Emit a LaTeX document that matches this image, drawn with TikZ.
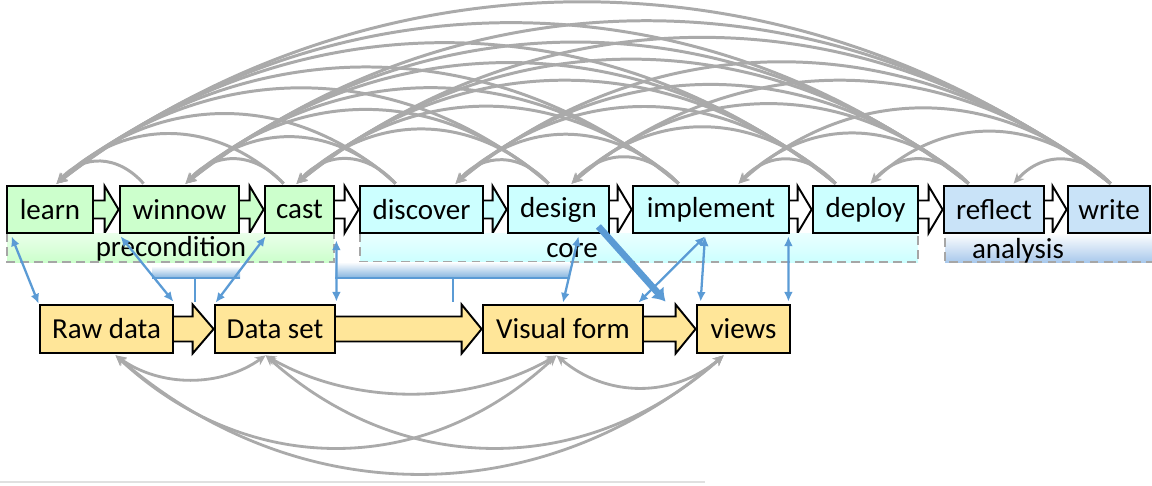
\documentclass[tikz,border=0pt]{standalone}
\usepackage{fontspec}
\setmainfont{Carlito}
\usetikzlibrary{arrows.meta,calc,backgrounds}

\definecolor{stagegreen}{HTML}{CCFFCC}
\definecolor{stagecyan}{HTML}{CCFFFF}
\definecolor{stageblue}{HTML}{C9E3F8}
\definecolor{analysisblue}{HTML}{A9C9EC}
\definecolor{datayellow}{HTML}{FFE699}
\definecolor{linkblue}{HTML}{5B9BD5}
\definecolor{arcgray}{HTML}{AAAAAA}
\definecolor{dashgray}{HTML}{A6A6A6}

% hollow block arrow between two boxes:
% #1 from, #2 to, #3 shaft half height, #4 head half height, #5 head length, #6 fill
\newcommand{\flowarrow}[6]{%
  \filldraw[fill=#6, draw=black, line width=1.1pt, line join=miter]
    ($(#1.east)+(-2,-#3)$) -- ($(#2.west)+(-#5,-#3)$) -- ($(#2.west)+(-#5,-#4)$)
    -- (#2.west) -- ($(#2.west)+(-#5,#4)$) -- ($(#2.west)+(-#5,#3)$)
    -- ($(#1.east)+(-2,#3)$) -- cycle;}

\begin{document}
\begin{tikzpicture}[x=0.02cm,y=-0.02cm,
  stagebox/.style={draw=black, line width=1.6pt, minimum height=0.94cm,
    inner sep=0pt, font=\fontsize{16.5}{20}\selectfont},
  databox/.style={stagebox, minimum height=0.96cm, fill=datayellow},
  bandlabel/.style={inner sep=0pt, font=\fontsize{16.5}{20}\selectfont},
  banddash/.style={draw=dashgray, line width=1.1pt, dash pattern=on 5pt off 3pt},
  grayarc/.style={draw=arcgray, line width=1.7pt, -{Stealth[length=6pt,width=5.5pt]}},
  grayarcboth/.style={draw=arcgray, line width=1.6pt,
    {Stealth[length=6pt,width=5.5pt]}-{Stealth[length=6pt,width=5.5pt]}},
  linkarrow/.style={draw=linkblue, line width=1.3pt,
    {Latex[length=5.5pt,width=5pt]}-{Latex[length=5.5pt,width=5pt]}},
  thicklink/.style={draw=linkblue, line width=3.8pt, -{Latex[length=7pt,width=10pt]}},
  bracketline/.style={draw=linkblue, line width=1.3pt}]

\useasboundingbox (0,0) rectangle (1152,485);

% stage groups below the top row
\shade[top color=stagegreen!40, bottom color=stagegreen] (7,233) rectangle (334,262);
\shade[top color=stagecyan!40, bottom color=stagecyan] (360,233) rectangle (918,262);
\shade[top color=white, bottom color=analysisblue] (945,233) rectangle (1152,262);
\draw[banddash] (7,233) -- (7,262) -- (334,262) -- (334,233);
\draw[banddash] (360,233) -- (360,262) -- (918,262) -- (918,233);
\draw[banddash] (945,238) -- (945,262) -- (1152,262);

\node[bandlabel] (lbl-pre) at (171,249) {precondition};
\node[bandlabel] (lbl-core) at (572,251) {core};
\node[bandlabel] (lbl-ana) at (1018,251) {analysis};

% brackets pointing at the data transformations
\shade[top color=white, bottom color=linkblue!75] (152,266) rectangle (240,278);
\draw[bracketline] (152,278) -- (240,278);
\draw[bracketline] (195,278) -- (195,302);
\shade[top color=white, bottom color=linkblue!75] (335,262) rectangle (570,278);
\draw[bracketline] (335,278) -- (570,278);
\draw[bracketline] (453,278) -- (453,302);

% top row: the nine stages
\node[stagebox, fill=stagegreen, minimum width=1.72cm] (learn) at (50,209.5) {learn};
\node[stagebox, fill=stagegreen, minimum width=2.38cm] (winnow) at (179.5,209.5) {winnow};
\node[stagebox, fill=stagegreen, minimum width=1.38cm] (cast) at (299.5,209.5) {cast};
\node[stagebox, fill=stagecyan, minimum width=2.46cm] (discover) at (421.5,209.5) {discover};
\node[stagebox, fill=stagecyan, minimum width=2.02cm] (design) at (558.5,209.5) {design};
\node[stagebox, fill=stagecyan, minimum width=3.12cm] (implement) at (711,209.5) {implement};
\node[stagebox, fill=stagecyan, minimum width=2.10cm] (deploy) at (865.5,209.5) {deploy};
\node[stagebox, fill=stageblue, minimum width=2.00cm] (reflect) at (994,209.5) {reflect};
\node[stagebox, fill=stageblue, minimum width=1.64cm] (write) at (1109,209.5) {write};

% bottom row: the data pipeline
\node[databox, minimum width=2.66cm] (raw) at (106.5,329) {Raw data};
\node[databox, minimum width=2.40cm] (dset) at (275,329) {Data set};
\node[databox, minimum width=3.20cm] (vform) at (563,329) {Visual form};
\node[databox, minimum width=1.86cm] (views) at (743.5,329) {views};

% block arrows, behind the boxes
\begin{pgfonlayer}{background}
  \flowarrow{learn}{winnow}{9}{23.5}{14}{stagegreen}
  \flowarrow{winnow}{cast}{9}{23.5}{14}{stagegreen}
  \flowarrow{cast}{discover}{9}{23.5}{14}{white}
  \flowarrow{discover}{design}{9}{23.5}{14}{stagecyan}
  \flowarrow{design}{implement}{9}{23.5}{14}{white}
  \flowarrow{implement}{deploy}{9}{23.5}{14}{white}
  \flowarrow{deploy}{reflect}{9}{23.5}{14}{white}
  \flowarrow{reflect}{write}{9}{23.5}{14}{white}
  \flowarrow{raw}{dset}{12.5}{24.5}{21}{datayellow}
  \flowarrow{dset}{vform}{12.5}{24.5}{20}{datayellow}
  \flowarrow{vform}{views}{12.5}{24.5}{20}{datayellow}
\end{pgfonlayer}

% arc end points on top of the stages
\coordinate (learn-in) at ($(learn.north west)+(51,-1)$);
\coordinate (winnow-out) at ($(winnow.north west)+(25,-1)$);
\coordinate (winnow-in) at ($(winnow.north west)+(67,-1)$);
\coordinate (cast-out) at ($(cast.north west)+(20,-1)$);
\coordinate (cast-in) at ($(cast.north west)+(33,-1)$);
\coordinate (discover-out) at ($(discover.north west)+(37,-1)$);
\coordinate (discover-in) at ($(discover.north west)+(97,-1)$);
\coordinate (design-out) at ($(design.north west)+(42,-1)$);
\coordinate (design-in) at ($(design.north west)+(65,-1)$);
\coordinate (implement-out) at ($(implement.north west)+(47,-1)$);
\coordinate (implement-in) at ($(implement.north west)+(107,-1)$);
\coordinate (deploy-out) at ($(deploy.north west)+(24,-1)$);
\coordinate (deploy-in) at ($(deploy.north west)+(59,-1)$);
\coordinate (reflect-out) at ($(reflect.north west)+(26,-1)$);
\coordinate (reflect-in) at ($(reflect.north west)+(71,-1)$);
\coordinate (write-out) at ($(write.north west)+(44,-1)$);

% backward arcs from every stage to every earlier stage
\foreach \sn/\sx [count=\si] in {winnow/145,cast/285,discover/397,design/550,
    implement/680,deploy/837,reflect/970,write/1112}{
  \foreach \tn/\tx [count=\ti] in {learn/58,winnow/187,cast/298,discover/457,
      design/573,implement/740,deploy/872,reflect/1015}{
    \ifnum\ti>\si\relax\else
      \pgfmathsetmacro\sp{\sx-\tx}
      \pgfmathsetmacro\hh{0.6747*pow(\sp,0.845)}
      \draw[grayarc] (\sn-out) .. controls +({-0.3*\sp},{-\hh}) and +({0.3*\sp},{-\hh}) .. (\tn-in);
    \fi
  }
}

% arc end points under the data boxes
\coordinate (raw-foot) at ($(raw.south west)+(77,1)$);
\coordinate (dset-foot) at ($(dset.south west)+(52,1)$);
\coordinate (vform-foot) at ($(vform.south west)+(75,1)$);
\coordinate (views-foot) at ($(views.south west)+(28,1)$);

\foreach \a/\ax/\b/\bx/\d in {raw/117/dset/267/24, raw/117/vform/558/92,
    raw/117/views/725/118, dset/267/vform/558/38, dset/267/views/725/92,
    vform/558/views/725/32}{
  \pgfmathsetmacro\sp{\bx-\ax}
  \pgfmathsetmacro\dd{1.333*\d}
  \draw[grayarcboth] (\a-foot) .. controls +({0.3*\sp},\dd) and +({-0.3*\sp},\dd) .. (\b-foot);
}

% links between stages and data
\draw[linkarrow] ($(learn.south west)+(6,2)$) -- (raw.north west);
\draw[linkarrow] ($(winnow.south west)+(2,2)$) -- ($(raw.north east)+(-1,-2)$);
\draw[linkarrow] ($(cast.south west)+(2,2)$) -- ($(dset.north west)+(2,-1)$);
\draw[linkarrow] ($(cast.south east)+(1,6)$) -- ($(dset.north east)+(0,-2)$);
\draw[linkarrow] ($(design.south)+(20,2)$) -- ($(vform.north)+(0,-1)$);
\coordinate (impl-foot) at ($(implement.south)+(-6,2)$);
\draw[linkarrow] (impl-foot) -- ($(vform.north east)+(-6,-1)$);
\draw[linkarrow] (impl-foot) -- ($(views.north west)+(5,-2)$);
\draw[linkarrow] ($(implement.south east)+(-2,2)$) -- ($(views.north east)+(-3,-2)$);
\draw[thicklink] ($(design.south east)+(-12,-8)$) -- ($(views.north west)+(-30,-2)$);

% faint rule along the bottom
\draw[black!12, line width=1.2pt] (0,482) -- (705,482);
\end{tikzpicture}
\end{document}
